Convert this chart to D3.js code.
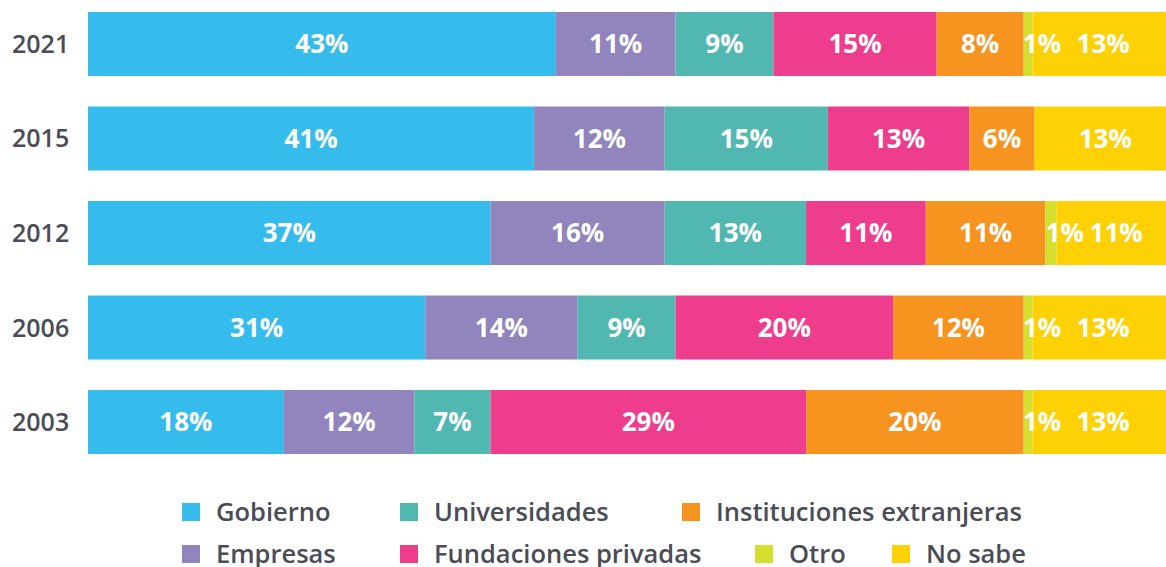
<!DOCTYPE html>
<html>
<head>
<meta charset="utf-8">
<script src="https://cdn.jsdelivr.net/npm/d3@7"></script>
<style>
  body { margin: 0; background: #fff; }
  svg { display: block; font-family: "Open Sans", sans-serif; }
</style>
</head>
<body>
<div id="chart"></div>
<script>
const years = ["2021", "2015", "2012", "2006", "2003"];
const categories = ["Gobierno", "Empresas", "Universidades", "Fundaciones privadas",
  "Instituciones extranjeras", "Otro", "No sabe"];
const colors = ["#35bcec", "#9284bd", "#50b8b0", "#ee3d8d", "#f7941f", "#d5df30", "#fed105"];

// one array per category, same order as years
const gobierno      = [43, 41, 37, 31, 18];
const empresas      = [11, 12, 16, 14, 12];
const universidades = [9, 15, 13, 9, 7];
const fundaciones   = [15, 13, 11, 20, 29];
const extranjeras   = [8, 6, 11, 12, 20];
const otro          = [0.8, 0, 1, 0.8, 0.8];
const noSabe        = [13, 13, 11, 13, 13];
const labels        = [
  ["43%", "11%", "9%", "15%", "8%", "1%", "13%"],
  ["41%", "12%", "15%", "13%", "6%", "", "13%"],
  ["37%", "16%", "13%", "11%", "11%", "1%", "11%"],
  ["31%", "14%", "9%", "20%", "12%", "1%", "13%"],
  ["18%", "12%", "7%", "29%", "20%", "1%", "13%"]
];

const series = [gobierno, empresas, universidades, fundaciones, extranjeras, otro, noSabe];
const table = years.map((y, i) => {
  const row = { year: y };
  categories.forEach((c, k) => row[c] = series[k][i]);
  return row;
});

const width = 1166, height = 567;
const svg = d3.select("#chart").append("svg")
    .attr("width", width)
    .attr("height", height);

const x = d3.scaleLinear().domain([0, 100]).range([88, 1176]);
const y = d3.scaleBand().domain(years).range([12, 454]).paddingInner(0.323).paddingOuter(0);

const stacked = d3.stack().keys(categories)(table);
const color = d3.scaleOrdinal().domain(categories).range(colors);

const layer = svg.append("g")
  .selectAll("g")
  .data(stacked)
  .join("g")
    .attr("fill", d => color(d.key));

layer.selectAll("rect")
  .data(d => d)
  .join("rect")
    .attr("x", d => x(d[0]))
    .attr("y", d => y(d.data.year))
    .attr("width", d => x(d[1]) - x(d[0]))
    .attr("height", y.bandwidth());

// value labels (the "Otro" label is pushed right of its thin sliver)
stacked.forEach((s, k) => {
  svg.append("g")
    .selectAll("text")
    .data(s)
    .join("text")
      .attr("x", d => (x(d[0]) + x(Math.min(d[1], 100))) / 2 + (k === 5 ? 14 : 0))
      .attr("y", d => y(d.data.year) + y.bandwidth() / 2)
      .attr("dy", "0.36em")
      .attr("text-anchor", "middle")
      .attr("fill", "#fff")
      .attr("font-size", 26)
      .attr("font-weight", 700)
      .attr("letter-spacing", 0)
      .text((d, i) => labels[i][k]);
});

// year labels
svg.append("g")
  .selectAll("text")
  .data(years)
  .join("text")
    .attr("x", 12)
    .attr("y", d => y(d) + y.bandwidth() / 2)
    .attr("dy", "0.36em")
    .attr("font-size", 25)
    .attr("font-weight", 600)
    .attr("fill", "#4a4c57")
    .text(d => d);

// legend
const legendPos = [
  [182, 512], [182, 554], [400, 512], [400, 554], [682, 512], [755, 554], [892, 554]
];
const legend = svg.append("g")
  .selectAll("g")
  .data(categories)
  .join("g")
    .attr("transform", (d, i) => `translate(${legendPos[i][0]},${legendPos[i][1]})`);

legend.append("rect")
    .attr("x", 0)
    .attr("y", -9)
    .attr("width", 18)
    .attr("height", 18)
    .attr("fill", d => color(d));

legend.append("text")
    .attr("x", 34)
    .attr("dy", "0.36em")
    .attr("font-size", 25.5)
    .attr("font-weight", 600)
    .attr("fill", "#4a4c57")
    .text(d => d);
</script>
</body>
</html>
